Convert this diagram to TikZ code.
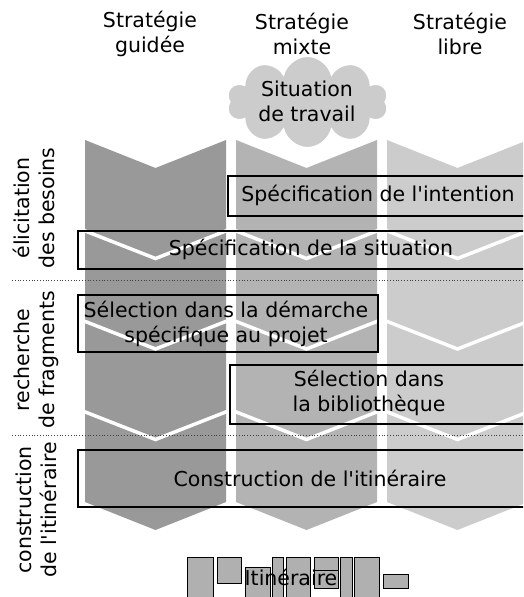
\documentclass[tikz,border=0pt]{standalone}
\usepackage{fontspec}
\setmainfont{DejaVu Sans}
\usetikzlibrary{shapes.symbols}
\definecolor{colA}{HTML}{999999}
\definecolor{colB}{HTML}{B3B3B3}
\definecolor{colC}{HTML}{CCCCCC}
\definecolor{piecefill}{HTML}{B0B0B0}
\newcommand{\sq}{\textquotesingle}
\begin{document}
\begin{tikzpicture}[x=1pt,y=-1pt,
  lbl/.style={font=\fontsize{20.5}{25}\selectfont, align=center, inner sep=0pt, text=black},
  stagebox/.style={draw=black, line width=2pt, inner sep=0pt, anchor=north west},
  sepline/.style={draw=white, line width=3.5pt},
  phase/.style={draw=black!75, line width=0.8pt, dotted},
  piece/.style={draw=black, line width=0.8pt, fill=piecefill},
]
\useasboundingbox (0,0) rectangle (523,597);
\clip (0,0) rectangle (523,597);

% three strategy columns, each a stack of four chevrons
\foreach \x/\c in {85/colA,236/colB,387/colC} {
  \fill[\c] (\x,140) -- (\x+70.5,168) -- (\x+141,140) -- (\x+141,502)
            -- (\x+70.5,530) -- (\x,502) -- cycle;
  \foreach \y in {230.5,321,411.5}
    \draw[sepline] (\x-1,\y) -- (\x+70.5,\y+28) -- (\x+142,\y);
}

% headers
\node[lbl] (guided) at (150,34) {Stratégie\\guidée};
\node[lbl] (mixed)  at (302,34) {Stratégie\\mixte};
\node[lbl] (free)   at (460,34) {Stratégie\\libre};

% work situation cloud
\node[cloud, cloud puffs=10, aspect=1.8, fill=colC, draw=white, line width=2pt,
      minimum width=162pt, minimum height=92pt] (cloud) at (307.5,102) {};
\node[lbl] (worksit) at (307,101) {Situation\\de travail};

% phase separators
\draw[phase] (12,280) -- (523,280);
\draw[phase] (12,435) -- (523,435);

% phase labels
\node[lbl, rotate=90] (elic)  at (34,208) {élicitation\\des besoins};
\node[lbl, rotate=90] (search) at (36,360) {recherche\\de fragments};
\node[lbl, rotate=90] (build) at (36,510) {construction\\de l\sq itinéraire};

% activity frames
\node[stagebox, minimum width=318pt, minimum height=40pt] (intentbox) at (227,175) {};
\node[stagebox, minimum width=468pt, minimum height=38pt] (situbox)   at (77,230) {};
\node[stagebox, minimum width=300pt, minimum height=57pt] (projbox)   at (77,294) {};
\node[stagebox, minimum width=316pt, minimum height=59pt] (libbox)    at (229,364) {};
\node[stagebox, minimum width=468pt, minimum height=57pt] (buildbox)  at (77,449) {};

% activity labels
\node[lbl] (intent) at (378,195) {Spécification de l\sq intention};
\node[lbl] (situ)   at (311,249) {Spécification de la situation};
\node[lbl] (proj)   at (226,324) {Sélection dans la démarche\\spécifique au projet};
\node[lbl] (lib)    at (369,393) {Sélection dans\\la bibliothèque};
\node[lbl] (constr) at (310,478) {Construction de l\sq itinéraire};

% resulting route: assembled fragments
\draw[piece] (187,557) rectangle (213,600);
\draw[piece] (217,557) rectangle (241,583);
\draw[piece] (245,567) rectangle (270,600);
\draw[piece] (272,557) rectangle (283,600);
\draw[piece] (286,557) rectangle (310,600);
\draw[piece] (314,557) rectangle (338,570);
\draw[piece] (314,570) rectangle (338,588);
\draw[piece] (340,557) rectangle (352,600);
\draw[piece] (354,557) rectangle (379,600);
\draw[piece] (383,574) rectangle (408,588);
\node[lbl] (route) at (291,577) {Itinéraire};
\end{tikzpicture}
\end{document}
